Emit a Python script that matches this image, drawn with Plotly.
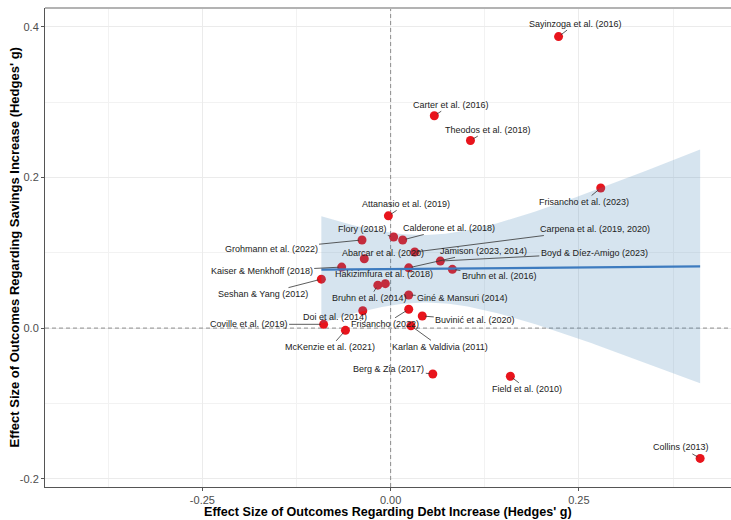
import numpy as np
import plotly.graph_objects as go

# Study-level effect sizes (Hedges' g)
studies = [
    "Sayinzoga et al. (2016)", "Carter et al. (2016)", "Theodos et al. (2018)",
    "Frisancho et al. (2023)", "Attanasio et al. (2019)", "Flory (2018)",
    "Calderone et al. (2018)", "Grohmann et al. (2022)", "Carpena et al. (2019, 2020)",
    "Abarcar et al. (2020)", "Boyd & Díez-Amigo (2023)", "Kaiser & Menkhoff (2018)",
    "Jamison (2023, 2014)", "Bruhn et al. (2016)", "Seshan & Yang (2012)",
    "Bruhn et al. (2014)", "Hakizimfura et al. (2018)", "Giné & Mansuri (2014)",
    "Frisancho (2022)", "Doi et al. (2014)", "Buvinić et al. (2020)",
    "Coville et al. (2019)", "McKenzie et al. (2021)", "Karlan & Valdivia (2011)",
    "Berg & Zia (2017)", "Field et al. (2010)", "Collins (2013)",
]
debt_g = [
    0.223, 0.058, 0.106, 0.279, -0.003, 0.004, 0.016, -0.038, 0.032,
    -0.035, 0.066, -0.065, 0.024, 0.082, -0.092, -0.017, -0.007, 0.024,
    0.024, -0.037, 0.042, -0.089, -0.060, 0.027, 0.056, 0.159, 0.411,
]
savings_g = [
    0.387, 0.282, 0.249, 0.186, 0.149, 0.121, 0.117, 0.117, 0.101,
    0.092, 0.089, 0.081, 0.080, 0.078, 0.065, 0.057, 0.059, 0.044,
    0.025, 0.023, 0.016, 0.005, -0.003, 0.003, -0.061, -0.064, -0.173,
]

x_ticks = [-0.25, 0.0, 0.25]
x_tick_text = ["-0.25", "0.00", "0.25"]
y_ticks = [-0.2, 0.0, 0.2, 0.4]
y_tick_text = ["-0.2", "0.0", "0.2", "0.4"]

x_range = [-0.459, 0.452]
y_range = [-0.211, 0.425]

# Label placement (pixel offsets from each point, repel-style)
label_offsets = {
    "Sayinzoga et al. (2016)": (17, -13),
    "Carter et al. (2016)": (17, -11),
    "Theodos et al. (2018)": (18, -11),
    "Frisancho et al. (2023)": (-17, 14),
    "Attanasio et al. (2019)": (18, -12),
    "Flory (2018)": (-31, -8),
    "Calderone et al. (2018)": (46, -12),
    "Grohmann et al. (2022)": (-91, 9),
    "Carpena et al. (2019, 2020)": (180, -23),
    "Abarcar et al. (2020)": (19, -6),
    "Boyd & Díez-Amigo (2023)": (154, -8),
    "Kaiser & Menkhoff (2018)": (-80, 4),
    "Jamison (2023, 2014)": (75, -17),
    "Bruhn et al. (2016)": (47, 7),
    "Seshan & Yang (2012)": (-58, 15),
    "Bruhn et al. (2014)": (-8, 13),
    "Hakizimfura et al. (2018)": (-1, -10),
    "Giné & Mansuri (2014)": (54, 3),
    "Frisancho (2022)": (-24, 15),
    "Doi et al. (2014)": (-28, 6),
    "Buvinić et al. (2020)": (53, 4),
    "Coville et al. (2019)": (-75, 0),
    "McKenzie et al. (2021)": (-15, 17),
    "Karlan & Valdivia (2011)": (29, 21),
    "Berg & Zia (2017)": (-44, -5),
    "Field et al. (2010)": (17, 13),
    "Collins (2013)": (-19, -11),
}

x = np.array(debt_g)
y = np.array(savings_g)

# OLS fit with 95% confidence band
n = len(x)
slope, intercept = np.polyfit(x, y, 1)
resid = y - (intercept + slope * x)
s = np.sqrt(np.sum(resid ** 2) / (n - 2))
sxx = np.sum((x - x.mean()) ** 2)
t_crit = 2.0595  # t(0.975, df = 25)
grid = np.linspace(x.min(), x.max(), 120)
fit = intercept + slope * grid
half = t_crit * s * np.sqrt(1.0 / n + (grid - x.mean()) ** 2 / sxx)
upper = fit + half
lower = fit - half

fig = go.Figure()

# Dashed reference lines at zero (kept beneath the points)
ref_line = dict(color="#8C8C8C", width=1, dash="4px,3px")
fig.add_trace(go.Scatter(x=x_range, y=[0, 0], mode="lines", line=ref_line,
                         hoverinfo="skip", showlegend=False))
fig.add_trace(go.Scatter(x=[0, 0], y=y_range, mode="lines", line=ref_line,
                         hoverinfo="skip", showlegend=False))

fig.add_trace(go.Scatter(
    x=x, y=y, mode="markers",
    marker=dict(color="#E8141C", size=9, line=dict(width=0)),
    hoverinfo="text", text=studies, showlegend=False,
))

fig.add_trace(go.Scatter(
    x=np.concatenate([grid, grid[::-1]]),
    y=np.concatenate([upper, lower[::-1]]),
    fill="toself", fillcolor="rgba(70,130,180,0.22)",
    line=dict(width=0), mode="lines", hoverinfo="skip", showlegend=False,
))

fig.add_trace(go.Scatter(
    x=grid, y=fit, mode="lines",
    line=dict(color="#3D7BBF", width=2.2),
    hoverinfo="skip", showlegend=False,
))

label_font = dict(family="Liberation Sans, Arial, sans-serif", size=9, color="#222222")
for name, xi, yi in zip(studies, debt_g, savings_g):
    dx, dy = label_offsets[name]
    fig.add_annotation(
        x=xi, y=yi, ax=dx, ay=dy, text=name,
        showarrow=True, arrowhead=0, arrowwidth=0.8, arrowcolor="#333333",
        font=label_font, standoff=3, startstandoff=0,
    )

# Top panel edge
fig.add_shape(type="line", xref="paper", yref="paper", x0=0, x1=1, y0=1, y1=1,
              line=dict(color="#B3B3B3", width=2))

axis_font = dict(family="Liberation Sans, Arial, sans-serif", size=11, color="#4D4D4D")

fig.update_xaxes(
    range=x_range, tickvals=x_ticks, ticktext=x_tick_text,
    showgrid=True, gridcolor="#EBEBEB", gridwidth=1,
    minor=dict(dtick=0.25, tick0=0.125, showgrid=True, gridcolor="#F2F2F2", gridwidth=0.6),
    zeroline=False, showline=True, linecolor="#555555", linewidth=1,
    ticks="outside", ticklen=3, tickcolor="#555555", tickfont=axis_font,
)
fig.update_yaxes(
    range=y_range, tickvals=y_ticks, ticktext=y_tick_text,
    showgrid=True, gridcolor="#EBEBEB", gridwidth=1,
    minor=dict(dtick=0.2, tick0=0.1, showgrid=True, gridcolor="#F2F2F2", gridwidth=0.6),
    zeroline=False, showline=True, linecolor="#555555", linewidth=1,
    ticks="outside", ticklen=3, tickcolor="#555555", tickfont=axis_font,
)

fig.add_annotation(
    xref="paper", yref="paper", x=0.5, y=0, yshift=-25, yanchor="middle",
    text="<b>Effect Size of Outcomes Regarding Debt Increase (Hedges' g)</b>",
    showarrow=False,
    font=dict(family="Liberation Sans, Arial, sans-serif", size=12.6, color="#000000"),
)
fig.add_annotation(
    xref="paper", yref="paper", x=0, y=0.5, xshift=-31, xanchor="center",
    text="<b>Effect Size of Outcomes Regarding Savings Increase (Hedges' g)</b>",
    showarrow=False, textangle=-90,
    font=dict(family="Liberation Sans, Arial, sans-serif", size=13, color="#000000"),
)

fig.update_layout(
    width=731, height=520,
    margin=dict(l=45, r=0, t=8, b=33),
    plot_bgcolor="white", paper_bgcolor="white",
    showlegend=False,
)

fig.write_html("out.html")
